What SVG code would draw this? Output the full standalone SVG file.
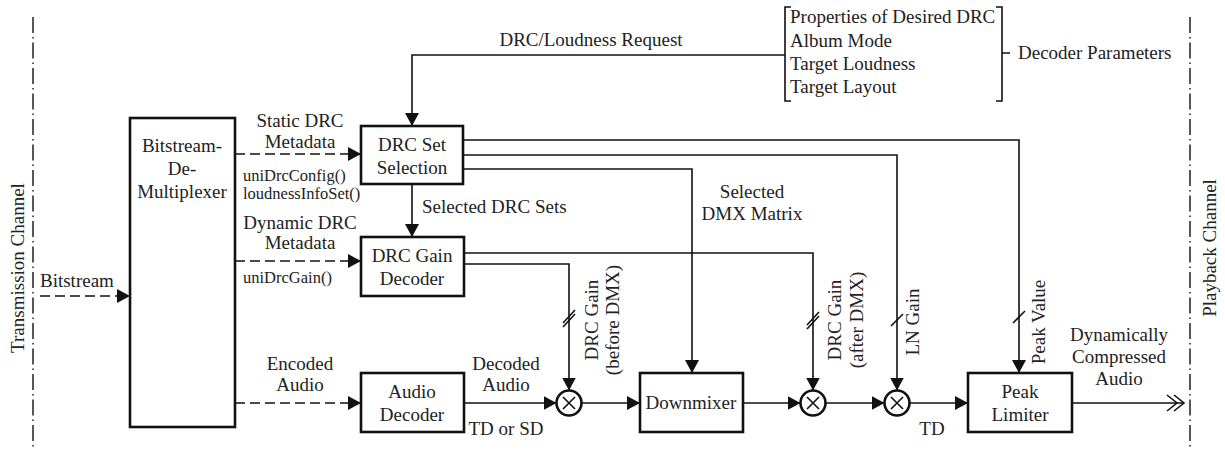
<svg xmlns="http://www.w3.org/2000/svg" width="1225" height="450" viewBox="0 0 1225 450">
<style>
text{font-family:"Liberation Serif","Times New Roman",serif;font-size:19px;fill:#222}
.sm{font-size:16.5px}
.c{text-anchor:middle}
.box{fill:#fff;stroke:#111;stroke-width:2.6}
.ln{fill:none;stroke:#111;stroke-width:1.6}
.dash{stroke-dasharray:10 5}
.dd{fill:none;stroke:#111;stroke-width:1.4;stroke-dasharray:16 4 1.5 4}
.mul{fill:#fff;stroke:#111;stroke-width:2.6}
</style>
<defs>
<marker id="ah" markerUnits="userSpaceOnUse" markerWidth="13" markerHeight="14" refX="13" refY="7" orient="auto">
<path d="M0,0 L13,7 L0,14 z" fill="#111"/>
</marker>
</defs>
<g id="channels">
<line class="dd" x1="33" y1="17" x2="33" y2="450"/>
<line class="dd" x1="1190" y1="17" x2="1190" y2="450"/>
<text class="c" transform="translate(24,268) rotate(-90)">Transmission Channel</text>
<text class="c" transform="translate(1216,248) rotate(-90)">Playback Channel</text>
</g>
<g id="connectors">
<path class="ln dash" d="M40,296 H130" marker-end="url(#ah)"/>
<path class="ln dash" d="M235,154 H361" marker-end="url(#ah)"/>
<path class="ln dash" d="M235,261 H361" marker-end="url(#ah)"/>
<path class="ln dash" d="M235,403 H361" marker-end="url(#ah)"/>
<path class="ln" d="M785,55 H412 V126" marker-end="url(#ah)"/>
<path class="ln" d="M412,184 V237" marker-end="url(#ah)"/>
<path class="ln" d="M463,140 H1019 V373" marker-end="url(#ah)"/>
<path class="ln" d="M463,155 H897 V390.5" marker-end="url(#ah)"/>
<path class="ln" d="M463,169 H692 V373" marker-end="url(#ah)"/>
<path class="ln" d="M464,253 H813 V390.5" marker-end="url(#ah)"/>
<path class="ln" d="M464,264 H569 V390.5" marker-end="url(#ah)"/>
<path class="ln" d="M464,403 H556.5" marker-end="url(#ah)"/>
<path class="ln" d="M581.5,403 H640" marker-end="url(#ah)"/>
<path class="ln" d="M743,403 H800.5" marker-end="url(#ah)"/>
<path class="ln" d="M825.5,403 H884.5" marker-end="url(#ah)"/>
<path class="ln" d="M909.5,403 H968" marker-end="url(#ah)"/>
<path class="ln" d="M1072,403 H1184"/>
<path class="ln" d="M1174,395 L1184,403 L1174,411 M1167,395 L1177,403 L1167,411"/>
<path class="ln" d="M563,323 L575,310 M563,327 L575,314"/>
<path class="ln" d="M807,325 L819,312 M807,329 L819,316"/>
<path class="ln" d="M891,326 L903,314"/>
<path class="ln" d="M1013,323 L1025,311"/>
</g>
<g id="demux">
<rect class="box" x="130" y="118" width="105" height="309"/>
<text class="c" x="182" y="152">Bitstream-</text>
<text class="c" x="182" y="175">De-</text>
<text class="c" x="182" y="198">Multiplexer</text>
</g>
<g id="drc-set-selection">
<rect class="box" x="361" y="126" width="102" height="58"/>
<text class="c" x="412" y="151">DRC Set</text>
<text class="c" x="412" y="174">Selection</text>
</g>
<g id="drc-gain-decoder">
<rect class="box" x="361" y="237" width="103" height="59"/>
<text class="c" x="412" y="262">DRC Gain</text>
<text class="c" x="412" y="285">Decoder</text>
</g>
<g id="audio-decoder">
<rect class="box" x="361" y="373" width="103" height="59"/>
<text class="c" x="412" y="398">Audio</text>
<text class="c" x="412" y="421">Decoder</text>
</g>
<g id="downmixer">
<rect class="box" x="640" y="373" width="103" height="59"/>
<text class="c" x="691" y="409">Downmixer</text>
</g>
<g id="peak-limiter">
<rect class="box" x="968" y="373" width="104" height="59"/>
<text class="c" x="1020" y="398">Peak</text>
<text class="c" x="1020" y="421">Limiter</text>
</g>
<g id="mul1">
<circle class="mul" cx="569" cy="403" r="12.5"/>
<path class="ln" d="M563,397 L575,409 M575,397 L563,409"/>
</g>
<g id="mul2">
<circle class="mul" cx="813" cy="403" r="12.5"/>
<path class="ln" d="M807,397 L819,409 M819,397 L807,409"/>
</g>
<g id="mul3">
<circle class="mul" cx="897" cy="403" r="12.5"/>
<path class="ln" d="M891,397 L903,409 M903,397 L891,409"/>
</g>
<g id="decoder-parameters">
<path class="ln" d="M791,7 H785 V101 H791"/>
<path class="ln" d="M996,7 H1002 V101 H996 M1002,53 H1010"/>
<text x="790" y="23">Properties of Desired DRC</text>
<text x="790" y="47">Album Mode</text>
<text x="790" y="70">Target Loudness</text>
<text x="790" y="93">Target Layout</text>
<text x="1018" y="59">Decoder Parameters</text>
</g>
<g id="labels">
<text class="c" x="591" y="46">DRC/Loudness Request</text>
<text x="40" y="287">Bitstream</text>
<text class="c" x="300" y="127">Static DRC</text>
<text class="c" x="300" y="148">Metadata</text>
<text class="sm" x="243" y="181">uniDrcConfig()</text>
<text class="sm" x="243" y="199">loudnessInfoSet()</text>
<text class="c" x="300" y="229">Dynamic DRC</text>
<text class="c" x="300" y="249">Metadata</text>
<text class="sm" x="243" y="283">uniDrcGain()</text>
<text class="c" x="300" y="370">Encoded</text>
<text class="c" x="300" y="391">Audio</text>
<text x="422" y="213">Selected DRC Sets</text>
<text class="c" x="752" y="198">Selected</text>
<text class="c" x="752" y="220">DMX Matrix</text>
<text class="c" x="506" y="370">Decoded</text>
<text class="c" x="506" y="391">Audio</text>
<text class="c" x="506" y="435">TD or SD</text>
<text class="c" x="932" y="435">TD</text>
<text class="c" x="1119" y="341">Dynamically</text>
<text class="c" x="1119" y="363">Compressed</text>
<text class="c" x="1119" y="385">Audio</text>
<text class="c" transform="translate(598,320) rotate(-90)">DRC Gain</text>
<text class="c" transform="translate(619,320) rotate(-90)">(before DMX)</text>
<text class="c" transform="translate(841,320) rotate(-90)">DRC Gain</text>
<text class="c" transform="translate(863,320) rotate(-90)">(after DMX)</text>
<text class="c" transform="translate(919,322) rotate(-90)">LN Gain</text>
<text class="c" transform="translate(1045,322) rotate(-90)">Peak Value</text>
</g>
</svg>
